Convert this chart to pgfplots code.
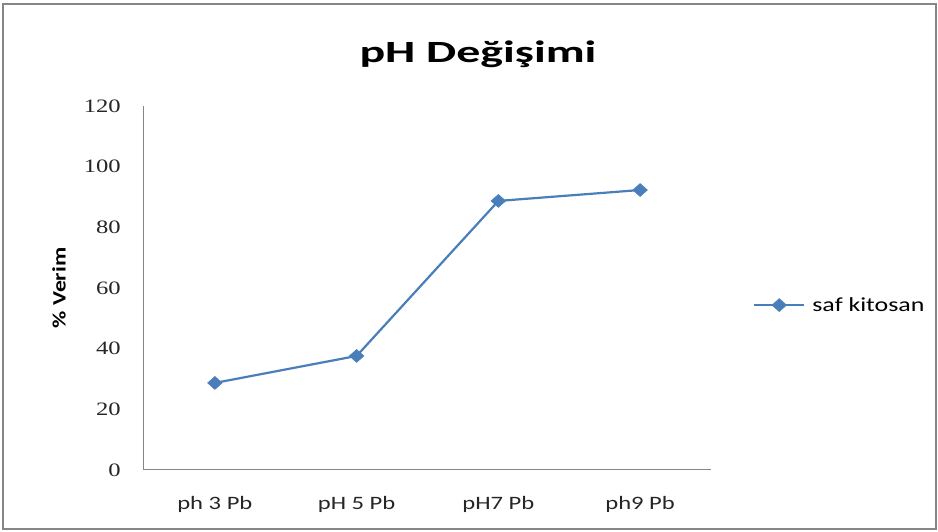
\documentclass[border=0pt]{standalone}
\usepackage{fontspec}
\setmainfont{Carlito}[FakeStretch=1.3]
\newfontfamily\titlefont{Carlito}[FakeStretch=1.55]
\newfontfamily\labfont{Carlito}[FakeStretch=1.25]
\newfontfamily\numfont{Liberation Serif}[FakeStretch=1.3]
\usepackage{pgfplots}
\pgfplotsset{compat=1.18}
\definecolor{exblue}{HTML}{4A7EBB}
\definecolor{exgray}{HTML}{868686}
\begin{document}
\begin{tikzpicture}[x=1bp,y=1bp]
\useasboundingbox (-144,-62) rectangle (794,470);
\draw[exgray, line width=2bp] (-141,-59) rectangle (792,466);
\begin{axis}[
  at={(0,0)}, anchor=south west,
  scale only axis, width=567bp, height=364bp,
  xmin=-0.5, xmax=3.5, ymin=0, ymax=120,
  axis x line=bottom, axis y line=left,
  axis line style={-, exgray, line width=1bp},
  xtick={0,1,2,3},
  xticklabels={ph 3 Pb, pH 5 Pb, pH7 Pb, ph9 Pb},
  ytick={0,20,40,60,80,100,120},
  major tick length=0pt,
  /pgf/number format/assume math mode=true,
  tick label style={font=\fontsize{19}{22}\selectfont, inner sep=0pt, text=black!85},
  yticklabel style={anchor=east, xshift=-23bp, font=\numfont\fontsize{19}{22}\selectfont},
  xticklabel style={anchor=north, yshift=-26bp},
  ylabel={\labfont\bfseries \% Verim},
  ylabel style={at={(axis description cs:-0.15,0.5)}, anchor=center, rotate=0, font=\fontsize{19}{22}\selectfont},
  legend style={at={(axis description cs:1.074,0.453)}, anchor=west, draw=none, fill=none, inner sep=0pt,
    nodes={inner sep=0pt, anchor=west}, font=\fontsize{20}{23}\selectfont},
  legend image code/.code={
    \draw[#1, mark=none] (0bp,0bp) -- (50bp,0bp);
    \draw[#1, only marks] plot coordinates {(25bp,0bp)};
    \path (57bp,0bp);
  },
]
\addplot[color=exblue, line width=2.2bp, mark=diamond*, mark size=6.5bp,
  mark options={xscale=1.5, fill=exblue, draw=exblue, line width=0.5bp}]
  coordinates {(0,28.7) (1,37.6) (2,88.7) (3,92.3)};
\addlegendentry{saf kitosan}
\end{axis}
\node[font=\titlefont\bfseries\fontsize{31}{36}\selectfont, anchor=base] at (334,407) {pH Değişimi};
\end{tikzpicture}
\end{document}
